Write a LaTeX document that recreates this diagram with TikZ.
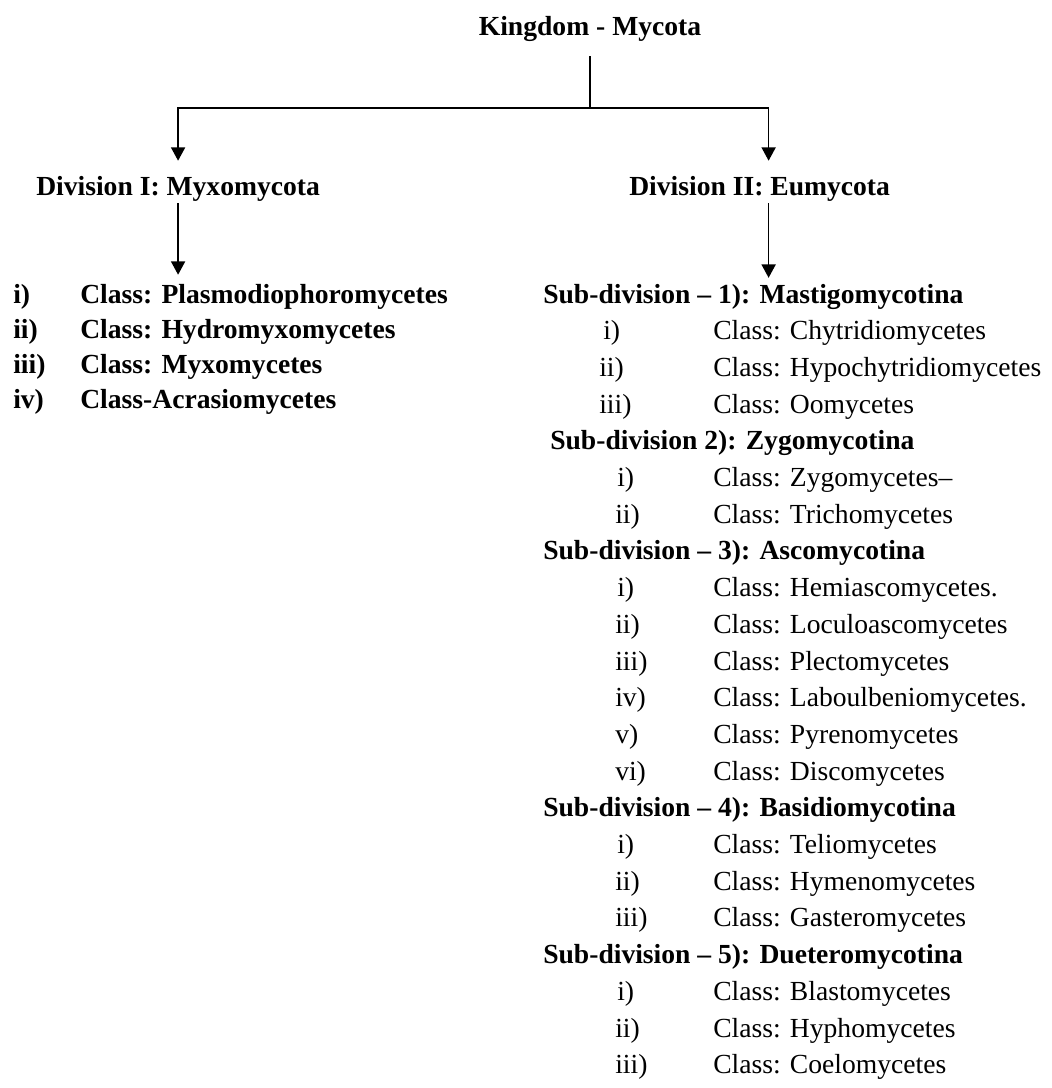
\documentclass[tikz,border=0pt]{standalone}
\usepackage{fontspec}
\setmainfont{Liberation Serif}
\usetikzlibrary{arrows.meta,positioning}

\tikzset{
  txt/.style={anchor=base west, inner sep=0pt, text height=14pt, text depth=4pt, font=\fontsize{20.7}{24}\selectfont},
  hd/.style={txt, font=\fontsize{20.7}{24}\selectfont\bfseries},
  link/.style={-{Triangle[length=10pt,width=10.5pt]}, line width=1.2pt},
}

\begin{document}
\begin{tikzpicture}[x=0.75pt, y=-0.75pt]
  \useasboundingbox (0,0) rectangle (1051,1088);
  % kingdom and divisions
  \node[hd, anchor=base] (king) at (590,36) {Kingdom - Mycota};
  \node[hd] (div1) at (36,195) {Division I: Myxomycota};
  \node[hd] (div2) at (629,195) {Division II: Eumycota};
  \coordinate (fork) at (590,108);
  \draw[line width=1.2pt, shorten <=11pt] (king.south) -- (fork);
  \draw[link, shorten >=11.5pt] (fork) -| (div1.north);
  \draw[link, shorten >=11.5pt] (fork) -| ([xshift=6.75pt]div2.north);

  % Myxomycota classes
  \foreach \i/\n/\t in {1/{i)}/{Class: Plasmodiophoromycetes}, 2/{ii)}/{Class: Hydromyxomycetes},
                        3/{iii)}/{Class: Myxomycetes}, 4/{iv)}/{Class-Acrasiomycetes}} {
    \node[hd] (num\i) at (13, 303+35*\i-35) {\n};
    \node[hd] (cls\i) at (80, 303+35*\i-35) {\t};
  }
  \draw[link, shorten <=2pt, shorten >=7pt] (div1.south) -- (div1.south |- cls1.north);

  % Eumycota sub-divisions
  \foreach \k/\r/\t in {1/0/{Sub-division -- 1): Mastigomycotina}, 3/7/{Sub-division -- 3): Ascomycotina},
                        4/14/{Sub-division -- 4): Basidiomycotina}, 5/18/{Sub-division -- 5): Dueteromycotina}}
    \node[hd] (sub\k) at (543, 303+36.7*\r) {\t};
  \node[hd] (sub2) at (550, 303+36.7*4) {Sub-division 2): Zygomycotina};
  \draw[link, shorten <=2pt, shorten >=4.7pt] ([xshift=6.75pt]div2.south) -- ([xshift=6.75pt]div2.south |- sub1.north);

  % Eumycota classes
  \foreach \r/\x/\n/\t in {1/603/{i)}/Chytridiomycetes, 2/599/{ii)}/Hypochytridiomycetes, 3/599/{iii)}/Oomycetes,
                           5/617/{i)}/{Zygomycetes--}, 6/615/{ii)}/Trichomycetes,
                           8/617/{i)}/{Hemiascomycetes.}, 9/615/{ii)}/Loculoascomycetes, 10/615/{iii)}/Plectomycetes,
                           11/615/{iv)}/{Laboulbeniomycetes.}, 12/615/{v)}/Pyrenomycetes, 13/615/{vi)}/Discomycetes,
                           15/617/{i)}/Teliomycetes, 16/615/{ii)}/Hymenomycetes, 17/615/{iii)}/Gasteromycetes,
                           19/617/{i)}/Blastomycetes, 20/615/{ii)}/Hyphomycetes, 21/615/{iii)}/Coelomycetes} {
    \node[txt] (rn\r) at (\x, 303+36.7*\r) {\n};
    \node[txt] (cl\r) at (713, 303+36.7*\r) {Class: \t};
  }
\end{tikzpicture}
\end{document}
